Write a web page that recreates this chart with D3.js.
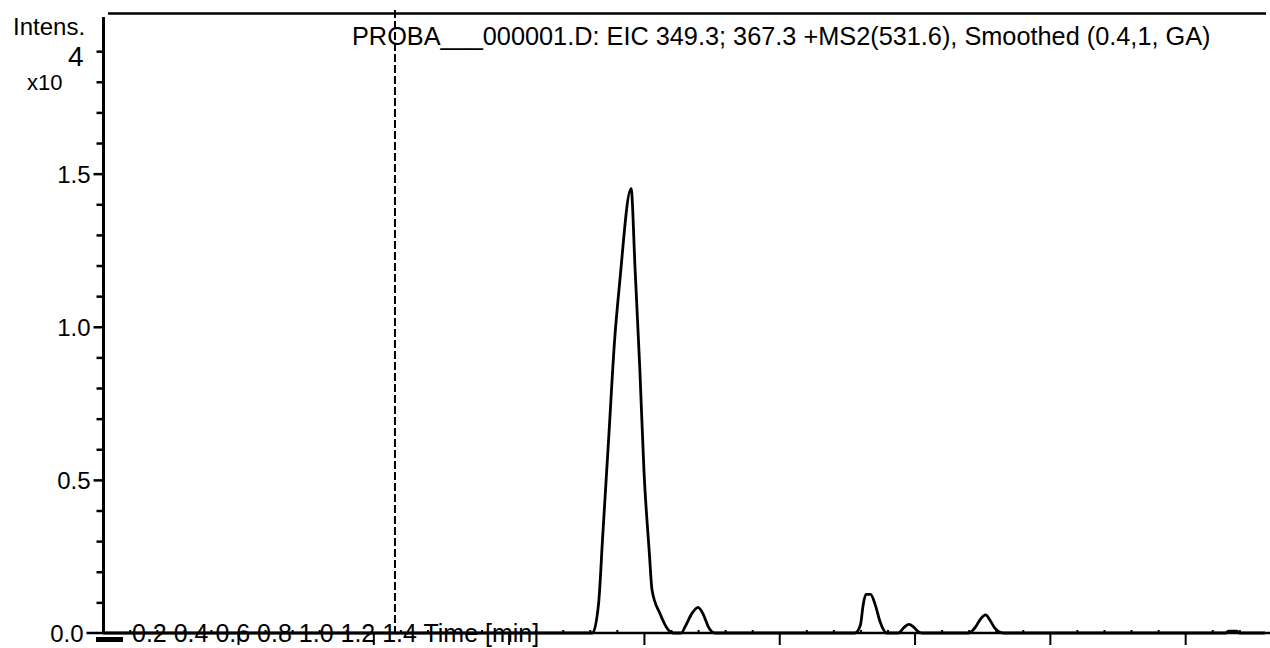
<!DOCTYPE html>
<html lang="en">
<head>
    <meta charset="UTF-8">
    <title>EIC chromatogram</title>
    <script src="https://d3js.org/d3.v7.min.js"></script>
    <style>
        body { margin: 0; background: #fff; }
        svg text { font-family: "Liberation Sans", Arial, sans-serif; fill: #000; }
    </style>
</head>
<body>
    <script>
        // trace: time in min, intensity in units of 10^4
        const times = [0, 0.700, 0.724, 0.733, 0.739, 0.748, 0.757, 0.764, 0.781, 0.787,
            0.794, 0.800, 0.808, 0.812, 0.824, 0.836, 0.843, 0.855, 0.861, 0.871,
            0.880, 0.887, 0.893, 0.895, 0.905, 1.112, 1.120, 1.124, 1.128, 1.135,
            1.142, 1.149, 1.159, 1.176, 1.184, 1.191, 1.198, 1.204, 1.211, 1.280,
            1.290, 1.297, 1.305, 1.312, 1.319, 1.331, 1.660, 1.664, 1.676, 1.680, 1.718];
        const intensity = [0, 0, 0, 0.097, 0.314, 0.640, 0.967, 1.141, 1.451, 1.184,
            0.858, 0.532, 0.261, 0.140, 0.062, 0.010, 0, 0, 0.021, 0.064,
            0.084, 0.064, 0.032, 0.021, 0, 0, 0.026, 0.091, 0.126, 0.126,
            0.091, 0.037, 0, 0, 0.017, 0.028, 0.021, 0.007, 0, 0,
            0.019, 0.044, 0.059, 0.040, 0.015, 0, 0, 0.006, 0.006, 0, 0];

        const yMajor = [0, 0.5, 1.0, 1.5];
        const yMinor = [0.1, 0.2, 0.3, 0.4, 0.6, 0.7, 0.8, 0.9, 1.1, 1.2, 1.3, 1.4, 1.6, 1.7, 1.8, 1.9];
        const xMajor = [0.2, 0.4, 0.6, 0.8, 1.0, 1.2, 1.4, 1.6];
        const xTickLabels = ["0.2", "0.4", "0.6", "0.8", "1.0", "1.2", "1.4"];
        const markerTime = 0.432;

        const title = "PROBA___000001.D: EIC 349.3; 367.3 +MS2(531.6), Smoothed (0.4,1, GA)";

        const w = 1270, h = 648;
        const x0 = 102.7, y0 = 633;

        const svg = d3.select("body").append("svg")
            .attr("width", w)
            .attr("height", h);

        const xScale = d3.scaleLinear().domain([0, 1.718]).range([x0, 1265]);
        const yScale = d3.scaleLinear().domain([0, 2.023]).range([y0, 13.5]);

        //y axis, major + minor
        const yAxis = d3.axisLeft(yScale).tickValues(yMajor).tickFormat(d3.format(".1f"))
            .tickSize(10).tickPadding(3);
        const gy = svg.append("g")
            .attr("transform", "translate(" + 103.5 + ",0)")
            .call(yAxis);
        gy.select(".domain").remove();
        gy.selectAll("line").attr("stroke", "#000").attr("stroke-width", 2.5);
        gy.selectAll("text").style("font-size", "24px").attr("dy", "0.36em");
        // the zero tick sits a little further left in the original
        gy.selectAll(".tick").filter(d => d === 0).attr("transform", "translate(-7," + yScale(0) + ")");

        const gyMinor = svg.append("g")
            .attr("transform", "translate(" + 103.5 + ",0)")
            .call(d3.axisLeft(yScale).tickValues(yMinor).tickFormat("").tickSize(7));
        gyMinor.select(".domain").remove();
        gyMinor.selectAll("line").attr("stroke", "#000").attr("stroke-width", 2.5);

        //y axis line and top frame
        svg.append("line")
            .attr("x1", 103.5).attr("x2", 103.5)
            .attr("y1", 17).attr("y2", y0)
            .attr("stroke", "#000").attr("stroke-width", 3);
        svg.append("line")
            .attr("x1", 108).attr("x2", 1266)
            .attr("y1", 13.5).attr("y2", 13.5)
            .attr("stroke", "#000").attr("stroke-width", 2.5);

        //dashed marker
        svg.append("line")
            .attr("x1", xScale(markerTime)).attr("x2", xScale(markerTime))
            .attr("y1", 10).attr("y2", y0)
            .attr("stroke", "#000").attr("stroke-width", 2)
            .attr("stroke-dasharray", "8,3");

        //trace
        const line = d3.line()
            .x((d, i) => xScale(times[i]))
            .y((d) => yScale(d))
            .curve(d3.curveMonotoneX);
        svg.append("path")
            .datum(intensity)
            .attr("d", line)
            .attr("fill", "none")
            .attr("stroke", "#000")
            .attr("stroke-width", 2.8)
            .attr("stroke-linejoin", "round");

        //x axis: major ticks down, minor ticks up
        const gx = svg.append("g")
            .attr("transform", "translate(0," + y0 + ")")
            .call(d3.axisBottom(xScale).tickValues(xMajor).tickFormat("").tickSize(12));
        gx.select(".domain").remove();
        gx.selectAll("line").attr("stroke", "#000").attr("stroke-width", 2);

        const xMinor = d3.range(0.04, 1.718, 0.04).filter(t => Math.abs(t / 0.2 - Math.round(t / 0.2)) > 0.01);
        const gxMinor = svg.append("g")
            .attr("transform", "translate(0," + y0 + ")")
            .call(d3.axisTop(xScale).tickValues(xMinor).tickFormat("").tickSize(3));
        gxMinor.select(".domain").remove();
        gxMinor.selectAll("line").attr("stroke", "#000").attr("stroke-width", 2);

        svg.append("rect")
            .attr("x", 96).attr("y", 637)
            .attr("width", 27).attr("height", 5)
            .attr("fill", "#000");

        //crowded tick labels, as in the original print
        svg.append("text")
            .attr("x", 132).attr("y", 642)
            .style("font-size", "25px")
            .text(xTickLabels.join(" ") + " Time [min]");

        svg.append("line")
            .attr("x1", 96).attr("x2", 1270)
            .attr("y1", y0).attr("y2", y0)
            .attr("stroke", "#000").attr("stroke-width", 2.5);

        //labels
        svg.append("text").attr("x", 13).attr("y", 35).style("font-size", "24px").text("Intens.");
        svg.append("text").attr("x", 68).attr("y", 66).style("font-size", "28px").text("4");
        svg.append("text").attr("x", 27).attr("y", 90).style("font-size", "22px").text("x10");

        svg.append("text")
            .attr("x", 352).attr("y", 45)
            .style("font-size", "25.3px")
            .text(title);
    </script>
</body>
</html>
